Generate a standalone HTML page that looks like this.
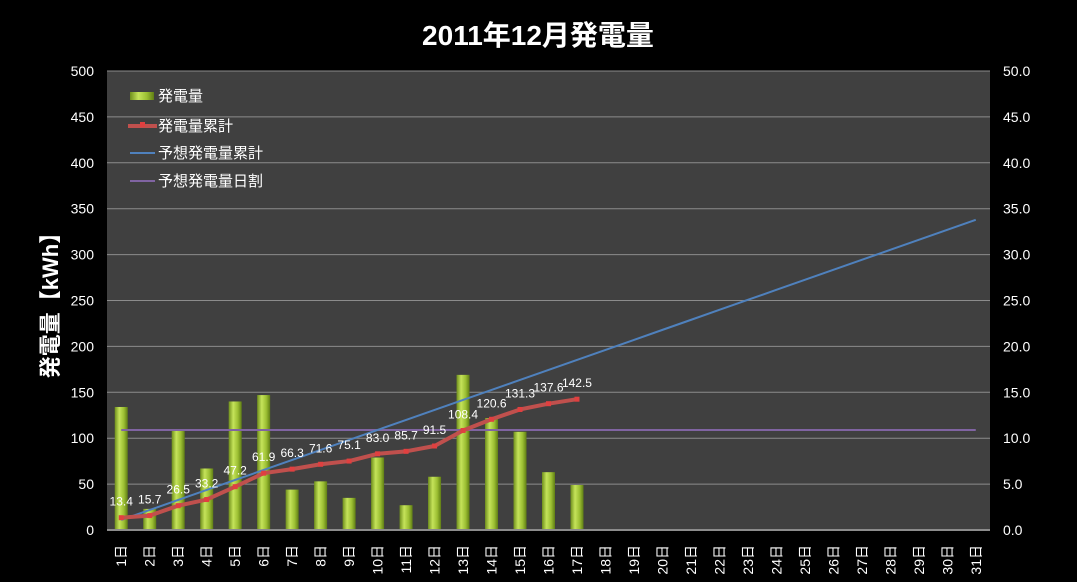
<!DOCTYPE html>
<html><head><meta charset="utf-8"><style>
body{margin:0;background:#000;}
svg{display:block;font-family:"Liberation Sans","Noto Sans CJK JP",sans-serif;}
</style></head><body>
<svg id="chart" width="1077" height="582">
<defs>
<linearGradient id="bg" x1="0" x2="1" y1="0" y2="0">
<stop offset="0" stop-color="#6f8f1c"/><stop offset="0.35" stop-color="#c5e35a"/><stop offset="0.7" stop-color="#9cbf33"/><stop offset="1" stop-color="#5f7d14"/>
</linearGradient>
</defs>
<rect x="0" y="0" width="1077" height="582" fill="#000"/>
<text x="538" y="45" text-anchor="middle" fill="#fff" font-size="28" font-weight="bold">2011年12月発電量</text>
<rect x="107" y="71" width="883" height="459" fill="#404040"/>
<g id="grid"></g>
<g id="bars"></g>
<g id="lines"></g>
<g id="axes"></g>
<text transform="translate(58,300) rotate(-90)" text-anchor="middle" fill="#fff" font-size="22" font-weight="bold">発電量【kWh】</text>
<g font-size="15" fill="#fff">
<rect x="130" y="92" width="24" height="8" fill="url(#bg)"/>
<text x="158" y="101" fill="#fff">発電量</text>
<line x1="128" y1="126" x2="157" y2="126" stroke="#c0504d" stroke-width="4"/>
<rect x="140" y="122" width="5" height="5" fill="#e04040"/>
<text x="158" y="131" fill="#fff">発電量累計</text>
<line x1="130" y1="153" x2="155" y2="153" stroke="#4f81bd" stroke-width="2"/>
<text x="158" y="158" fill="#fff">予想発電量累計</text>
<line x1="130" y1="181" x2="155" y2="181" stroke="#8064a2" stroke-width="2"/>
<text x="158" y="186" fill="#fff">予想発電量日割</text>
</g>
</svg>
<script>
const days = Array.from({length:31},(_,i)=>(i+1)+"日");
const dailyValues = [13.4,2.3,10.8,6.7,14.0,14.7,4.4,5.3,3.5,7.9,2.7,5.8,16.9,12.2,10.7,6.3,4.9];
const cumulativeValues = [13.4,15.7,26.5,33.2,47.2,61.9,66.3,71.6,75.1,83.0,85.7,91.5,108.4,120.6,131.3,137.6,142.5];
const forecastDaily = 10.9;
const leftTicks = [0,50,100,150,200,250,300,350,400,450,500];
const rightTicks = ["0.0","5.0","10.0","15.0","20.0","25.0","30.0","35.0","40.0","45.0","50.0"];

const NS="http://www.w3.org/2000/svg";
const X0=107,X1=990,Y0=530,Y1=71;
const bw=(X1-X0)/days.length;
const xc=i=>X0+bw*(i+0.5);
const yL=v=>Y0-(v/500)*(Y0-Y1);
const yR=v=>Y0-(v/50)*(Y0-Y1);
function mk(tag,attrs,parent,txt){const e=document.createElementNS(NS,tag);for(const k in attrs)e.setAttribute(k,attrs[k]);if(txt!==undefined)e.textContent=txt;document.getElementById(parent).appendChild(e);return e;}

leftTicks.forEach((t,i)=>{
  const y=yL(t);
  if(t>0){const g=mk('line',{x1:X0,x2:X1,y1:y,y2:y,stroke:'#8c8c8c','stroke-width':1},'grid');
  
  }
  const l=mk('text',{x:94,y:y+5,'text-anchor':'end',fill:'#fff','font-size':14},'axes',String(t));
  
  
  const r=mk('text',{x:1003,y:y+5,'text-anchor':'start',fill:'#fff','font-size':14},'axes',rightTicks[i]);
  
  
});
const ax=mk('line',{x1:X0,x2:X1,y1:Y0,y2:Y0,stroke:'#8c8c8c','stroke-width':2},'axes');


days.forEach((d,i)=>{
  const t=mk('text',{transform:`translate(${xc(i)+5},${545}) rotate(-90)`,'text-anchor':'end',fill:'#fff','font-size':14},'axes',d);
  
  
});
dailyValues.forEach((v,i)=>{
  const y=yR(v);
  const b=mk('rect',{x:xc(i)-6.5,y:y,width:13,height:Y0-y,fill:'url(#bg)'},'bars');
  
  
});
const fd=mk('line',{x1:xc(0),x2:xc(30),y1:yL(forecastDaily*10),y2:yL(forecastDaily*10),stroke:'#8064a2','stroke-width':2},'lines');


const fc=mk('polyline',{points:days.map((_,i)=>xc(i)+','+yL(forecastDaily*(i+1))).join(' '),fill:'none',stroke:'#4f81bd','stroke-width':2},'lines');


const cl=mk('polyline',{points:cumulativeValues.map((v,i)=>xc(i)+','+yL(v)).join(' '),fill:'none',stroke:'#c0504d','stroke-width':4,'stroke-linejoin':'round'},'lines');


cumulativeValues.forEach((v,i)=>{
  const m=mk('rect',{x:xc(i)-2.5,y:yL(v)-2.5,width:5,height:5,fill:'#e04040'},'lines');
  
  
  const t=mk('text',{x:xc(i),y:yL(v)-12,'text-anchor':'middle',fill:'#fff','font-size':12},'lines',v.toFixed(1));
  
  
});
</script>
</body></html>
